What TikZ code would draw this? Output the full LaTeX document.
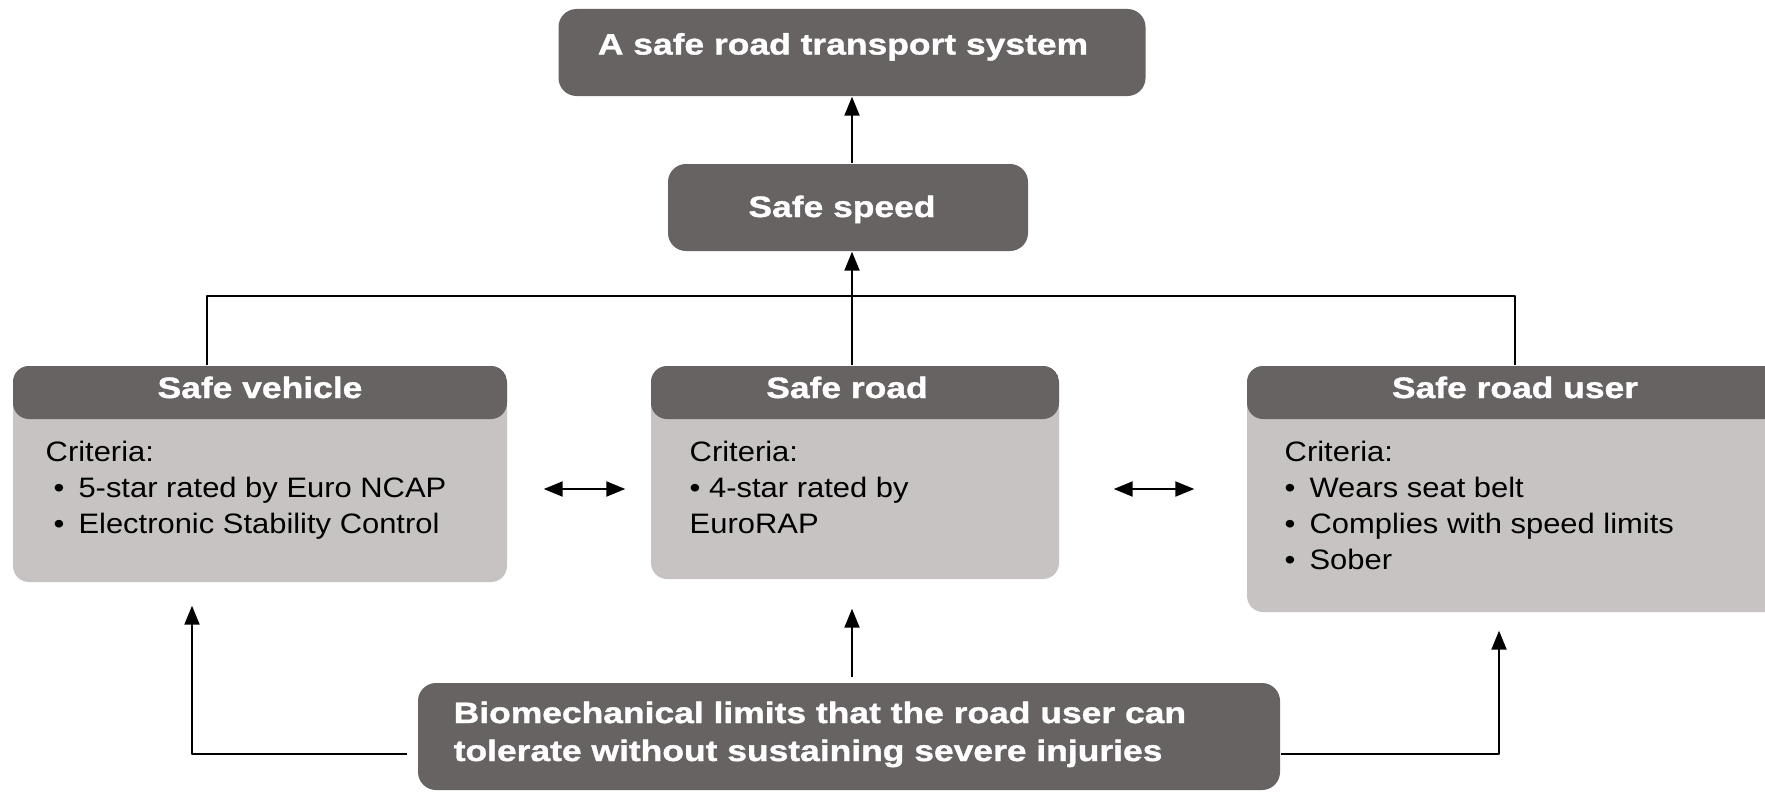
\documentclass[tikz,border=0pt]{standalone}
\usepackage{fontspec}
\setmainfont{Liberation Sans}[FakeStretch=1.1]
\newfontfamily\headfont{Liberation Sans}[FakeStretch=1.2, FakeBold=1.2]
\usetikzlibrary{arrows.meta}
\definecolor{boxdark}{RGB}{103,99,99}
\definecolor{boxlight}{RGB}{199,195,195}
\tikzset{
	darkbox/.style={fill=boxdark, rounded corners=1.8mm, inner sep=0pt},
	critbox/.style={fill=boxlight, rounded corners=1.6mm, inner sep=0pt,
		path picture={\fill[boxdark] (path picture bounding box.north west) rectangle ([yshift=-5.3mm]path picture bounding box.north east);}},
	headtext/.style={text=white, font=\headfont\bfseries\fontsize{8.4}{10.8}\selectfont, inner sep=0pt},
	bodytext/.style={font=\fontsize{8}{10.2}\selectfont, align=left, inner sep=0pt, anchor=base west},
	link/.style={line width=0.6pt}
}
\newcommand{\itm}{\hspace*{0.8mm}\textbullet\hspace{1.4mm}}
\begin{document}
\begin{tikzpicture}[>={Triangle[length=1.9mm,width=1.5mm]}, line join=round]
		\useasboundingbox (0,0) rectangle (17.65,-7.91);
		% boxes
		\node[darkbox, minimum width=5.87cm, minimum height=0.87cm] (system) at (8.52,-0.525) {};
		\node[darkbox, minimum width=3.6cm, minimum height=0.87cm] (speed) at (8.48,-2.075) {};
		\node[critbox, minimum width=4.94cm, minimum height=2.16cm] (vehicle) at (2.60,-4.74) {};
		\node[critbox, minimum width=4.08cm, minimum height=2.13cm] (road) at (8.55,-4.725) {};
		\node[critbox, minimum width=5.36cm, minimum height=2.46cm] (user) at (15.15,-4.89) {};
		\node[darkbox, minimum width=8.62cm, minimum height=1.07cm] (limits) at (8.49,-7.365) {};
		% texts (multi-line ones sit on their last baseline)
		\node[headtext, anchor=base] (system-t) at (8.43,-0.545) {A safe road transport system};
		\node[headtext, anchor=base] (speed-t) at (8.42,-2.17) {Safe speed};
		\node[headtext, anchor=base] (vehicle-t) at (2.60,-3.98) {Safe vehicle};
		\node[headtext, anchor=base] (road-t) at (8.47,-3.98) {Safe road};
		\node[headtext, anchor=base] (user-t) at (15.15,-3.98) {Safe road user};
		\node[bodytext] (vehicle-b) at (0.45,-5.33) {Criteria:\\ \itm 5-star rated by Euro NCAP\\ \itm Electronic Stability Control};
		\node[bodytext] (road-b) at (6.89,-5.33) {Criteria:\\ \textbullet\ 4-star rated by\\ EuroRAP};
		\node[bodytext] (user-b) at (12.84,-5.69) {Criteria:\\ \textbullet\hspace{1.4mm}Wears seat belt\\ \textbullet\hspace{1.4mm}Complies with speed limits\\ \textbullet\hspace{1.4mm}Sober};
		\node[headtext, align=left, anchor=base west] (limits-t) at (4.53,-7.61) {Biomechanical limits that the road user can\\ tolerate without sustaining severe injuries};
		% connectors
		\coordinate (bar) at (8.52,-2.96);
		\coordinate (mid) at (0,-4.89);
		\draw[link,->] (speed.north -| system) -- (system.south);
		\draw[link,->] (road.north -| system) -- (speed.south -| system);
		\draw[link] ([xshift=-5.3mm]vehicle.north) |- (bar) -| (user.north);
		\draw[link,<->, shorten <=3.6mm, shorten >=2.5mm] (vehicle.east |- mid) -- (road.west |- mid);
		\draw[link,<->, shorten <=5.4mm, shorten >=5.2mm] (road.east |- mid) -- (user.west |- mid);
		\draw[link,->, shorten <=1mm, shorten >=2.3mm] ([yshift=-1.75mm]limits.west) -| ([xshift=-6.8mm]vehicle.south);
		\draw[link,->, shorten <=0.5mm, shorten >=2.9mm] (limits.north -| system) -- (road.south -| system);
		\draw[link,->, shorten >=1.8mm] ([yshift=-1.75mm]limits.east) -| ([xshift=-1.6mm]user.south);
\end{tikzpicture}
\end{document}
